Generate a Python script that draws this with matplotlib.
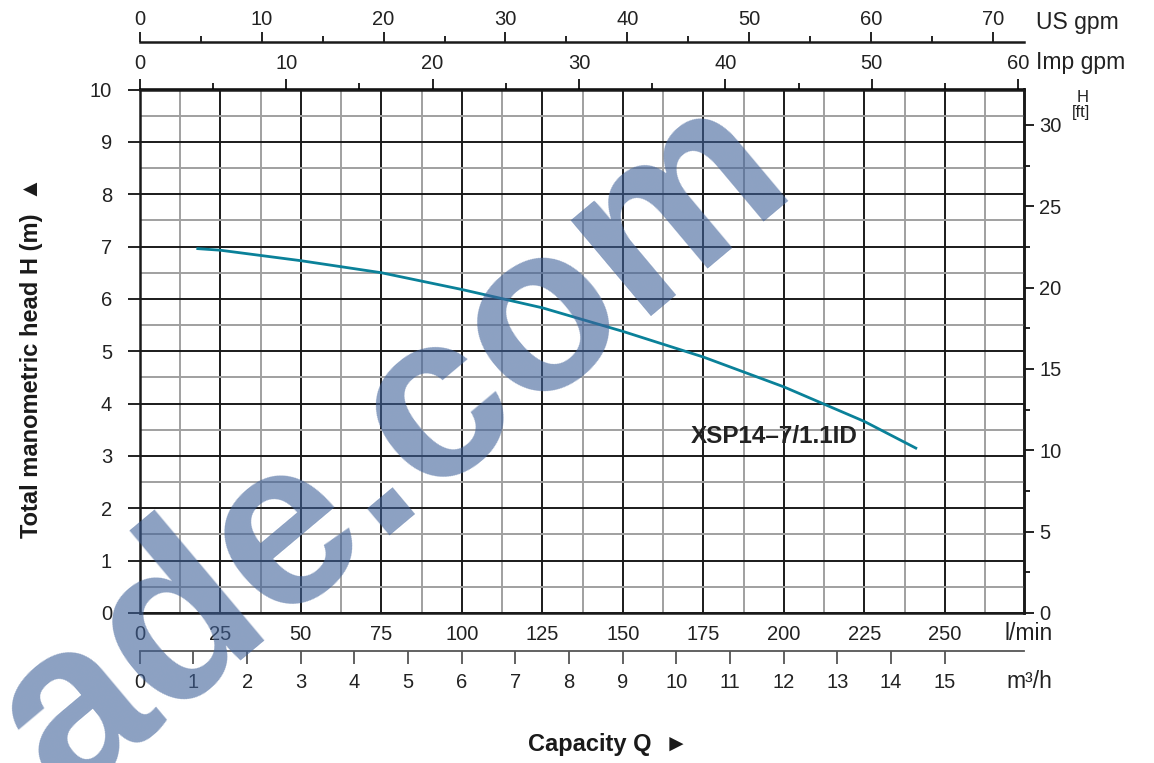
import matplotlib
matplotlib.use('Agg')
import matplotlib.pyplot as plt
from matplotlib.ticker import MultipleLocator

plt.rcParams['font.family'] = ['Liberation Sans', 'DejaVu Sans']

# ---- data ----
Q_lmin = [18, 25, 50, 75, 100, 125, 150, 175, 200, 225, 241]
H_m = [6.96, 6.93, 6.73, 6.50, 6.18, 5.83, 5.38, 4.89, 4.32, 3.66, 3.15]
curve_label = "XSP14\u20137/1.1ID"

lmin_ticks = [0, 25, 50, 75, 100, 125, 150, 175, 200, 225, 250]
m3h_ticks = list(range(0, 16))
usgpm_ticks = [0, 10, 20, 30, 40, 50, 60, 70]
impgpm_ticks = [0, 10, 20, 30, 40, 50, 60]
ft_ticks = [0, 5, 10, 15, 20, 25, 30]
head_ticks = list(range(0, 11))

Q_MAX = 274.6
H_MAX = 10
FT_PER_M = 3.218
LMIN_PER_M3H = 1000 / 60
LMIN_PER_USGPM = 3.78541
LMIN_PER_IMPGPM = 4.54609

W, H = 1154, 763
fig = plt.figure(figsize=(W / 100, H / 100), dpi=100)

L, R = 139.8 / W, 1024 / W
B, T = 1 - 613 / H, 1 - 89.5 / H
ax = fig.add_axes([L, B, R - L, T - B])
ax.set_xlim(0, Q_MAX)
ax.set_ylim(0, H_MAX)
ax.set_xticks(lmin_ticks)
ax.xaxis.set_minor_locator(MultipleLocator(12.5))
ax.set_yticks(head_ticks)
ax.yaxis.set_minor_locator(MultipleLocator(0.5))
ax.grid(which='major', color='#1a1a1a', lw=1.4)
ax.grid(which='minor', color='#a0a0a0', lw=1.4)
ax.set_axisbelow(True)
ax.tick_params(axis='x', which='both', length=0, pad=9, labelsize=14.5, colors='#222222')
ax.tick_params(axis='y', which='major', direction='out', length=9, width=1.4,
               pad=11, labelsize=14.5, colors='#222222')
ax.tick_params(axis='y', which='minor', length=0)
for s in ax.spines.values():
    s.set_linewidth(1.8)
    s.set_color('#1a1a1a')

ax.plot(Q_lmin, H_m, color='#0a8199', lw=2.0, zorder=5)
ax.text(171, 3.37, curve_label, fontsize=17.5, fontweight='bold', color='#222222',
        ha='left', va='center', zorder=6)

# Imp gpm on top spine
imp = ax.secondary_xaxis('top', functions=(lambda q: q / LMIN_PER_IMPGPM,
                                           lambda g: g * LMIN_PER_IMPGPM))
imp.set_xticks(impgpm_ticks)
imp.xaxis.set_minor_locator(MultipleLocator(5))
imp.tick_params(which='major', length=7, width=1.4, pad=5, labelsize=14.5, colors='#222222')
imp.tick_params(which='minor', length=4, width=1.4, colors='#222222')
for s in imp.spines.values():
    s.set_linewidth(1.8)

# right ft axis
ft = ax.secondary_yaxis('right', functions=(lambda h: h * FT_PER_M,
                                            lambda f: f / FT_PER_M))
ft.set_yticks(ft_ticks)
ft.yaxis.set_minor_locator(MultipleLocator(2.5))
ft.tick_params(which='major', direction='out', length=7, width=1.4, pad=4,
               labelsize=14.5, colors='#222222')
ft.tick_params(which='minor', direction='out', length=4, width=1.4, colors='#222222')
for s in ft.spines.values():
    s.set_linewidth(1.8)

# US gpm axis (separate line above)
us = fig.add_axes([L, 1 - 42 / H, R - L, 1e-5])
us.set_xlim(0, Q_MAX / LMIN_PER_USGPM)
us.set_facecolor('none')
for k, s in us.spines.items():
    s.set_visible(k == 'top')
us.spines['top'].set_linewidth(1.8)
us.spines['top'].set_color('#1a1a1a')
us.set_yticks([])
us.xaxis.set_ticks_position('top')
us.xaxis.set_label_position('top')
us.set_xticks(usgpm_ticks)
us.xaxis.set_minor_locator(MultipleLocator(5))
us.tick_params(which='major', length=7, width=1.4, pad=2.5, labelsize=14.5, colors='#222222')
us.tick_params(which='minor', length=4, width=1.4, colors='#222222')

# m3/h axis (separate line below)
m3 = fig.add_axes([L, 1 - 651 / H, R - L, 1e-5])
m3.set_xlim(0, Q_MAX / LMIN_PER_M3H)
m3.set_facecolor('none')
for k, s in m3.spines.items():
    s.set_visible(k == 'bottom')
m3.spines['bottom'].set_linewidth(1.3)
m3.spines['bottom'].set_color('#555555')
m3.set_yticks([])
m3.set_xticks(m3h_ticks)
m3.tick_params(which='major', direction='out', length=9, width=1.3, pad=7,
               labelsize=14.5, colors='#555555', labelcolor='#222222')

# unit labels
fig.text(1077 / W, 1 - 22 / H, 'US gpm', fontsize=16.5, ha='center', va='center', color='#222222')
fig.text(1081 / W, 1 - 63 / H, 'Imp gpm', fontsize=16.5, ha='center', va='center', color='#222222')
fig.text(1029 / W, 1 - 634 / H, 'l/min', fontsize=16.5, ha='center', va='center', color='#222222')
fig.text(1029 / W, 1 - 682 / H, 'm\u00b3/h', fontsize=16.5, ha='center', va='center', color='#222222')
fig.text(1083 / W, 1 - 97 / H, 'H', fontsize=12, ha='center', va='center', color='#222222')
fig.text(1081 / W, 1 - 113 / H, '[ft]', fontsize=12, ha='center', va='center', color='#222222')

fig.text(32 / W, 1 - 357 / H, 'Total manometric head H (m)  \u25b2', rotation=90,
         fontsize=17, fontweight='bold', ha='center', va='center', color='#1a1a1a')
fig.text(608 / W, 1 - 745 / H, 'Capacity Q  \u25ba', fontsize=17, fontweight='bold',
         ha='center', va='center', color='#1a1a1a')

# watermark
fig.text(392 / W, 1 - 448 / H, 'ade.com', rotation=40, rotation_mode='anchor',
         fontsize=170, fontweight='bold', color='#3f6199', alpha=0.6,
         ha='center', va='center', zorder=20)

fig.savefig('out.png', dpi=100)
